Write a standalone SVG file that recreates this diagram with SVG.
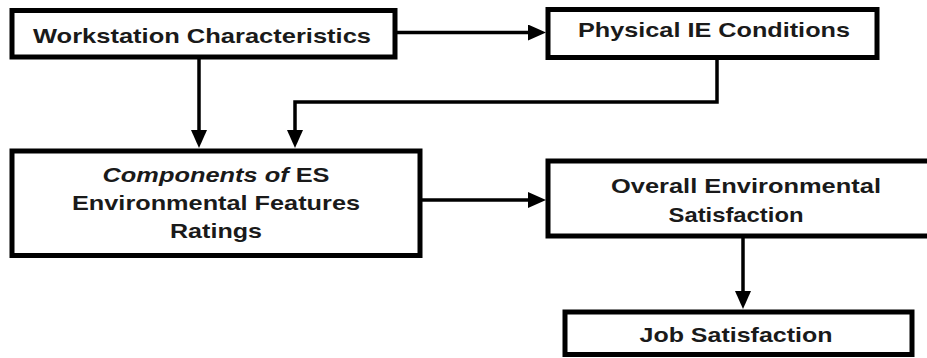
<svg xmlns="http://www.w3.org/2000/svg" width="927" height="358" viewBox="0 0 927 358">
<defs>
<style>
.box{fill:#fff;stroke:#000;stroke-width:5}
.lbl{font-family:"Liberation Sans",Arial,sans-serif;font-weight:bold;font-size:21px;fill:#1a1a1a;text-anchor:middle}
.it{font-style:italic}
.conn{fill:none;stroke:#000;stroke-width:3.5}
</style>
<marker id="ah" markerUnits="userSpaceOnUse" viewBox="0 0 18 16" markerWidth="18" markerHeight="16" refX="12" refY="8" orient="auto">
<path d="M0,0 L18,8 L0,16 z" fill="#000"/>
</marker>
</defs>
<rect width="927" height="358" fill="#fff"/>
<g id="connectors">
<path class="conn" d="M397,32.5 H540" marker-end="url(#ah)"/>
<path class="conn" d="M199,59 V142" marker-end="url(#ah)"/>
<path class="conn" d="M717,60 V102 H295 V142" marker-end="url(#ah)"/>
<path class="conn" d="M422,200 H540" marker-end="url(#ah)"/>
<path class="conn" d="M743,238 V303" marker-end="url(#ah)"/>
</g>
<g id="n1">
<rect class="box" x="12" y="10.5" width="383" height="46.5"/>
<text class="lbl" x="202" y="43" textLength="338" lengthAdjust="spacingAndGlyphs">Workstation Characteristics</text>
</g>
<g id="n2">
<rect class="box" x="548" y="9.5" width="329" height="48"/>
<text class="lbl" x="714" y="37" textLength="272" lengthAdjust="spacingAndGlyphs">Physical IE Conditions</text>
</g>
<g id="n3">
<rect class="box" x="12" y="151" width="408" height="104.5"/>
<text class="lbl" x="216" y="182" textLength="227" lengthAdjust="spacingAndGlyphs"><tspan class="it">Components of</tspan> ES</text>
<text class="lbl" x="216" y="210" textLength="288" lengthAdjust="spacingAndGlyphs">Environmental Features</text>
<text class="lbl" x="216" y="238" textLength="92" lengthAdjust="spacingAndGlyphs">Ratings</text>
</g>
<g id="n4">
<rect class="box" x="548" y="161" width="400" height="75"/>
<text class="lbl" x="746" y="193" textLength="270" lengthAdjust="spacingAndGlyphs">Overall Environmental</text>
<text class="lbl" x="736" y="222" textLength="135" lengthAdjust="spacingAndGlyphs">Satisfaction</text>
</g>
<g id="n5">
<rect class="box" x="565" y="312" width="347" height="42.5"/>
<text class="lbl" x="736" y="342" textLength="193" lengthAdjust="spacingAndGlyphs">Job Satisfaction</text>
</g>
</svg>
